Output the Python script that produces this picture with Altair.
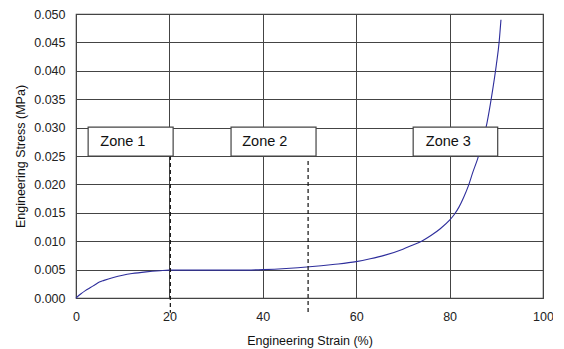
import altair as alt
import pandas as pd

strain = [0, 1, 2, 3, 4, 5, 6, 8, 10, 12, 15, 18, 20, 25, 30, 35, 40, 45, 50, 55,
          60, 63, 66, 70, 72, 74, 76, 78, 80, 81, 82, 83, 84, 85, 86, 87, 88, 89, 90, 90.6, 91]
stress = [0, 0.0007, 0.0013, 0.0018, 0.0023, 0.0028, 0.0031, 0.0036, 0.0040, 0.0043,
          0.0046, 0.0048, 0.0049, 0.0049, 0.0049, 0.0049, 0.0050, 0.0052, 0.0055, 0.0059,
          0.0064, 0.0069, 0.0075, 0.0086, 0.0093, 0.0100, 0.0110, 0.0122, 0.0137, 0.0147,
          0.0160, 0.0177, 0.0197, 0.0222, 0.0245, 0.0273, 0.0308, 0.0355, 0.0410, 0.0450, 0.0490]

x_ticks = [0, 20, 40, 60, 80, 100]
y_ticks = [0.0, 0.005, 0.010, 0.015, 0.020, 0.025, 0.030, 0.035, 0.040, 0.045, 0.050]

zone_labels = ["Zone 1", "Zone 2", "Zone 3"]
zone_x0 = [2.6, 33.2, 72.2]
zone_x1 = [20.8, 51.4, 90.3]
zone_y0 = [0.0250, 0.0250, 0.0250]
zone_y1 = [0.0301, 0.0301, 0.0301]
zone_text_x = [5.2, 35.6, 74.9]

div_x = [20.2, 49.7]
div_top = [0.0250, 0.0241]
div_bottom = [-0.0026, -0.0026]

curve = pd.DataFrame({"strain": strain, "stress": stress})
zones = pd.DataFrame({"label": zone_labels, "x0": zone_x0, "x1": zone_x1,
                      "y0": zone_y0, "y1": zone_y1, "tx": zone_text_x,
                      "ty": [(a + b) / 2 for a, b in zip(zone_y0, zone_y1)]})
divs = pd.DataFrame({"x": div_x, "top": div_top, "bottom": div_bottom})

xs = alt.Scale(domain=[0, 100], nice=False, zero=False)
ys = alt.Scale(domain=[0, 0.05], nice=False, zero=False)

xaxis = alt.Axis(values=x_ticks, title="Engineering Strain (%)",
                 grid=True, ticks=False, domain=False, labelPadding=12, titlePadding=12,
                 labelOverlap=False, labelFlush=False)
yaxis = alt.Axis(values=y_ticks, format=".3f",
                 title="Engineering Stress (MPa)", grid=True, ticks=False, domain=False,
                 labelPadding=11, titlePadding=6, labelOverlap=False, labelFlush=False)

line = alt.Chart(curve).mark_line(color="#2e2e9c", strokeWidth=1.1, interpolate="monotone").encode(
    x=alt.X("strain:Q", scale=xs, axis=xaxis),
    y=alt.Y("stress:Q", scale=ys, axis=yaxis),
)

rules = alt.Chart(divs).mark_rule(color="#111", strokeDash=[4, 3], strokeWidth=1.2, clip=False).encode(
    x=alt.X("x:Q", scale=xs, axis=xaxis),
    y=alt.Y("top:Q", scale=ys, axis=yaxis),
    y2="bottom:Q",
)

boxes = alt.Chart(zones).mark_rect(fill="white", stroke="#444", strokeWidth=1.2).encode(
    x=alt.X("x0:Q", scale=xs, axis=xaxis),
    x2="x1:Q",
    y=alt.Y("y0:Q", scale=ys, axis=yaxis),
    y2="y1:Q",
)

texts = alt.Chart(zones).mark_text(align="left", baseline="middle", fontSize=14.5,
                                   font="Liberation Sans", color="#111").encode(
    x=alt.X("tx:Q", scale=xs, axis=xaxis),
    y=alt.Y("ty:Q", scale=ys, axis=yaxis),
    text="label:N",
)

chart = alt.layer(line, rules, boxes, texts).properties(
    width=467, height=284,
    autosize=alt.AutoSizeParams(type="none"),
    padding={"left": 68, "top": 6, "right": 10, "bottom": 50},
).configure_view(
    stroke="#444", strokeWidth=1.2
).configure_axis(
    gridColor="#444", gridOpacity=1, gridWidth=1,
    labelFont="Liberation Sans", labelFontSize=12.5, labelColor="#222",
    titleFont="Liberation Sans", titleFontSize=12.5, titleFontWeight="normal", titleColor="#111",
)

chart.save("out.html", embed_options={"renderer": "svg", "actions": False})
